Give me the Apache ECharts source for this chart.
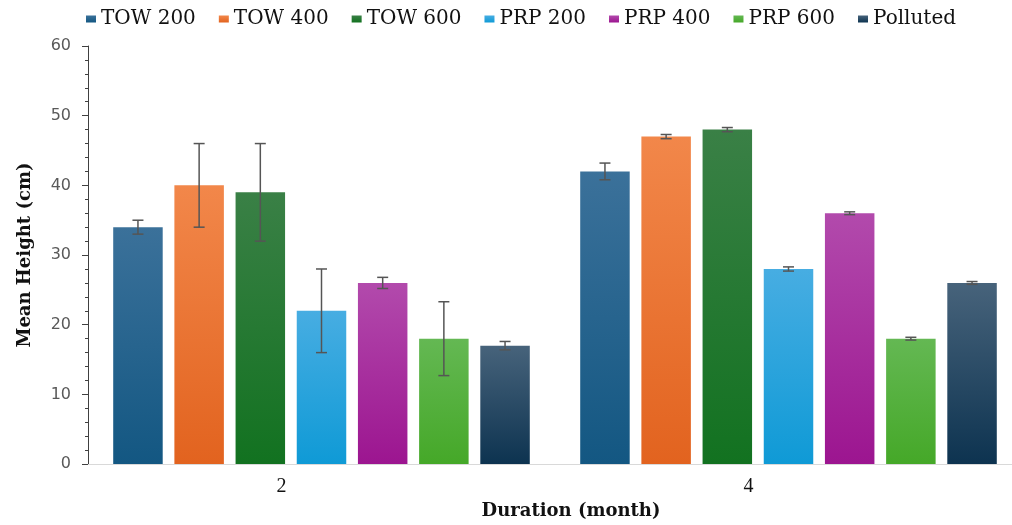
<!DOCTYPE html>
<html>
<head>
<meta charset="utf-8">
<script src="https://cdn.jsdelivr.net/npm/echarts@6/dist/echarts.min.js"></script>
<style>
html,body{margin:0;padding:0;background:#fff;overflow:hidden;}
#chart{width:1040px;height:525px;}
</style>
</head>
<body>
<div id="chart"></div>
<script>
// ---- data ----
var categories = ['2', '4'];
var seriesNames = ['TOW 200', 'TOW 400', 'TOW 600', 'PRP 200', 'PRP 400', 'PRP 600', 'Polluted'];
var tow200 = [34, 42];
var tow400 = [40, 47];
var tow600 = [39, 48];
var prp200 = [22, 28];
var prp400 = [26, 36];
var prp600 = [18, 18];
var polluted = [17, 26];
var tow200Err = [1, 1.2];
var tow400Err = [6, 0.3];
var tow600Err = [7, 0.3];
var prp200Err = [6, 0.3];
var prp400Err = [0.8, 0.2];
var prp600Err = [5.3, 0.2];
var pollutedErr = [0.6, 0.2];
var yTicks = [0, 10, 20, 30, 40, 50, 60];

// ---- styles ----
var values = [tow200, tow400, tow600, prp200, prp400, prp600, polluted];
var errors = [tow200Err, tow400Err, tow600Err, prp200Err, prp400Err, prp600Err, pollutedErr];
var gradients = [
  ['#3b719a', '#135782'],
  ['#f2874a', '#e2631f'],
  ['#3a8046', '#127220'],
  ['#47ade2', '#0f9ad6'],
  ['#b24aac', '#9c1590'],
  ['#64b853', '#45a828'],
  ['#47637b', '#0d3350']
];
var BAR_W = 49.5;
var GAP_RATIO = 0.236;

var chart = echarts.init(document.getElementById('chart'), null, {renderer: 'canvas'});

var series = seriesNames.map(function (name, i) {
  return {
    name: name,
    type: 'bar',
    barWidth: BAR_W,
    barGap: (GAP_RATIO * 100) + '%',
    data: values[i],
    itemStyle: {
      color: new echarts.graphic.LinearGradient(0, 0, 0, 1, [
        {offset: 0, color: gradients[i][0]},
        {offset: 1, color: gradients[i][1]}
      ])
    },
    emphasis: {disabled: true}
  };
});

var errData = [];
seriesNames.forEach(function (name, i) {
  categories.forEach(function (c, j) {
    errData.push([j, values[i][j], errors[i][j], i]);
  });
});

series.push({
  type: 'custom',
  name: 'err',
  z: 10,
  data: errData,
  encode: {x: 0, y: 1},
  renderItem: function (params, api) {
    var cat = api.value(0), val = api.value(1), err = api.value(2), si = api.value(3);
    var n = seriesNames.length;
    var gap = BAR_W * GAP_RATIO;
    var total = n * BAR_W + (n - 1) * gap;
    var center = api.coord([cat, val])[0];
    var x = center - total / 2 + si * (BAR_W + gap) + BAR_W / 2;
    var yTop = api.coord([cat, val + err])[1];
    var yBot = api.coord([cat, val - err])[1];
    var half = 5.5;
    var st = {stroke: '#555555', lineWidth: 1.5};
    return {
      type: 'group',
      children: [
        {type: 'line', shape: {x1: x, y1: yTop, x2: x, y2: yBot}, style: st},
        {type: 'line', shape: {x1: x - half, y1: yTop, x2: x + half, y2: yTop}, style: st},
        {type: 'line', shape: {x1: x - half, y1: yBot, x2: x + half, y2: yBot}, style: st}
      ]
    };
  },
  silent: true
});

var option = {
  animation: false,
  backgroundColor: '#ffffff',
  legend: {
    data: seriesNames,
    left: 81,
    top: 4,
    icon: 'rect',
    itemWidth: 10,
    itemHeight: 7,
    itemGap: 23,
    textStyle: {fontFamily: 'DejaVu Serif', fontSize: 20, color: '#111111'}
  },
  grid: {left: 88, top: 46, width: 934, height: 425.5, containLabel: false},
  xAxis: {
    type: 'category',
    data: categories,
    axisLine: {show: true, lineStyle: {color: '#d9d9d9', width: 1}},
    axisTick: {show: false},
    axisLabel: {
      fontFamily: 'Liberation Serif',
      fontSize: 20,
      color: '#111111',
      margin: 13,
      padding: [0, 80, 0, 0]
    },
    name: 'Duration (month)',
    nameLocation: 'middle',
    nameGap: 31,
    nameTextStyle: {
      fontFamily: 'DejaVu Serif',
      fontWeight: 'bold',
      fontSize: 18,
      color: '#111111',
      padding: [0, 0, 0, 32]
    }
  },
  yAxis: {
    type: 'value',
    min: yTicks[0],
    max: yTicks[yTicks.length - 1],
    interval: 10,
    axisLine: {show: true, lineStyle: {color: '#404040', width: 1}},
    axisTick: {show: true, inside: false, length: 6, lineStyle: {color: '#404040'}},
    minorTick: {show: true, splitNumber: 5, length: 3, lineStyle: {color: '#404040'}},
    splitLine: {show: false},
    minorSplitLine: {show: false},
    axisLabel: {fontFamily: 'DejaVu Sans', fontSize: 16, color: '#595959', margin: 17},
    name: 'Mean Height (cm)',
    nameLocation: 'middle',
    nameGap: 54,
    nameTextStyle: {fontFamily: 'DejaVu Serif', fontWeight: 'bold', fontSize: 18, color: '#111111'}
  },
  series: series
};
chart.setOption(option);
</script>
</body>
</html>
